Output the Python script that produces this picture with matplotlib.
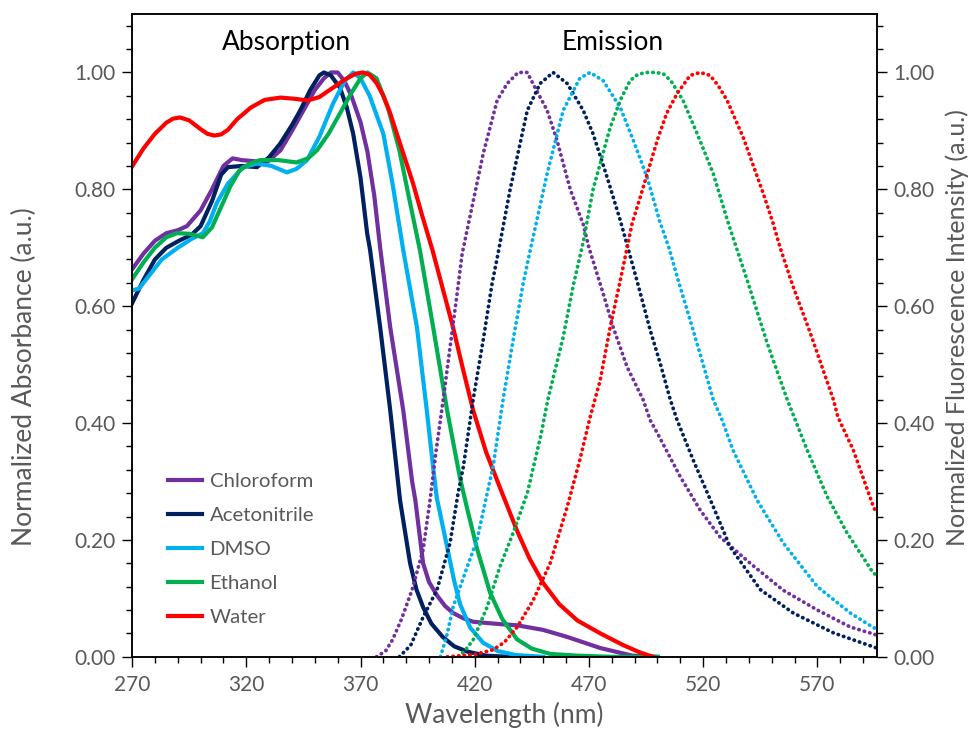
import matplotlib.pyplot as plt
from matplotlib.ticker import MultipleLocator

plt.rcParams['font.family'] = ['Lato', 'DejaVu Sans']

solvents = ["Chloroform", "Acetonitrile", "DMSO", "Ethanol", "Water"]
colors = ["#7030A0", "#002060", "#00B0F0", "#00B050", "#FF0000"]
xticks = [270, 320, 370, 420, 470, 520, 570]

# absorption spectra (wavelength nm, normalized absorbance)
abs_chloroform_x = [270, 275, 280, 285, 290, 294, 300, 305, 310, 314, 318, 324, 329, 335, 340, 345, 350, 354, 357, 360,
                    363, 366, 370, 373, 376, 378.6, 383, 388.7, 392.6, 394, 397.4, 400, 403.5, 407, 410.5, 415, 419.3,
                    425, 431, 438.5, 450, 460.5, 475, 489, 500]
abs_chloroform_y = [0.663, 0.69, 0.712, 0.725, 0.73, 0.737, 0.764, 0.80, 0.84, 0.853, 0.85, 0.848, 0.846, 0.867, 0.90,
                    0.935, 0.97, 0.99, 1.0, 1.0, 0.985, 0.96, 0.915, 0.865, 0.79, 0.70, 0.564, 0.422, 0.30, 0.268,
                    0.16, 0.128, 0.105, 0.087, 0.075, 0.066, 0.06, 0.058, 0.056, 0.054, 0.046, 0.034, 0.015, 0.002,
                    0.0]

abs_acetonitrile_x = [270, 275, 280, 285, 291, 296, 300, 305, 309, 312, 318, 324.7, 330, 334.8, 340, 343.6, 348, 352,
                      354, 357, 361, 364, 366.8, 370, 372.9, 374.2, 378.6, 383, 387.3, 391.7, 394.5, 397.4, 401, 406,
                      411, 416.7, 425, 435]
abs_acetonitrile_y = [0.605, 0.645, 0.68, 0.70, 0.713, 0.722, 0.737, 0.78, 0.825, 0.838, 0.84, 0.838, 0.855, 0.878,
                      0.91, 0.935, 0.97, 0.995, 1.0, 0.995, 0.974, 0.94, 0.895, 0.82, 0.725, 0.696, 0.564, 0.422,
                      0.268, 0.16, 0.115, 0.085, 0.057, 0.034, 0.018, 0.009, 0.002, 0.0]

abs_dmso_x = [270, 273, 277, 283, 290, 296, 301, 304, 307, 312, 318.6, 324.7, 331, 337.8, 342, 346.6, 352, 358, 363,
              366.8, 370, 374, 380, 384, 388.7, 394.7, 399, 401.9, 403.4, 407.9, 411, 413.6, 418, 423.7, 430, 438, 450]
abs_dmso_y = [0.627, 0.63, 0.65, 0.68, 0.70, 0.715, 0.725, 0.745, 0.776, 0.81, 0.838, 0.844, 0.84, 0.829, 0.835, 0.85,
              0.89, 0.947, 0.985, 1.0, 0.99, 0.96, 0.895, 0.81, 0.696, 0.564, 0.422, 0.32, 0.272, 0.188, 0.13, 0.09,
              0.05, 0.024, 0.01, 0.003, 0.0]

abs_ethanol_x = [270, 275, 280, 285, 289.7, 295, 301, 305, 309, 313, 317, 321, 326, 334, 342, 347, 351, 356, 361, 366,
                 370, 373, 377, 382, 387, 391, 396, 401.8, 407.9, 413.6, 416.6, 421, 426.7, 432, 438.5, 445, 453, 465,
                 480, 500]
abs_ethanol_y = [0.646, 0.675, 0.70, 0.718, 0.725, 0.724, 0.718, 0.735, 0.77, 0.805, 0.832, 0.843, 0.85, 0.85, 0.846,
                 0.853, 0.867, 0.895, 0.93, 0.965, 0.99, 1.0, 0.99, 0.94, 0.867, 0.79, 0.696, 0.564, 0.422, 0.305,
                 0.255, 0.185, 0.11, 0.065, 0.03, 0.014, 0.005, 0.002, 0.0, 0.0]

abs_water_x = [270, 275, 280, 285, 288, 291, 295, 300, 303, 306, 309, 312, 316, 322, 328, 335, 341, 347, 352, 358, 364,
               368, 371, 374, 377, 380, 383, 388, 393, 397, 401.5, 406, 410.5, 415, 419.3, 425, 431, 438.6, 444, 450,
               457, 465, 475, 485, 492, 498]
abs_water_y = [0.839, 0.87, 0.895, 0.914, 0.921, 0.923, 0.918, 0.903, 0.895, 0.892, 0.894, 0.902, 0.92, 0.94, 0.953,
               0.957, 0.955, 0.952, 0.958, 0.974, 0.99, 0.998, 1.0, 0.996, 0.982, 0.96, 0.93, 0.87, 0.81, 0.755,
               0.696, 0.63, 0.564, 0.49, 0.422, 0.35, 0.29, 0.215, 0.168, 0.126, 0.09, 0.062, 0.04, 0.02, 0.008, 0.0]

# emission spectra (wavelength nm, normalized fluorescence)
em_chloroform_x = [377, 381, 384, 388, 392.6, 397.4, 400.5, 403, 406.2, 409.2, 412.3, 414.5, 419.4, 423.7, 429.8,
                   434.2, 439, 443, 445.6, 451.7, 456, 461.8, 467.5, 470, 476.2, 480.6, 486.7, 493.7, 496.8, 499.9,
                   510, 518.7, 527.4, 540.6, 555, 570, 584.4, 594.6, 596]
em_chloroform_y = [0.0, 0.01, 0.029, 0.065, 0.115, 0.183, 0.27, 0.35, 0.44, 0.53, 0.622, 0.69, 0.781, 0.861, 0.952,
                   0.981, 1.0, 1.0, 0.98, 0.935, 0.884, 0.80, 0.74, 0.70, 0.622, 0.564, 0.496, 0.44, 0.405, 0.383,
                   0.308, 0.251, 0.205, 0.16, 0.114, 0.08, 0.051, 0.039, 0.037]

em_acetonitrile_x = [387, 392, 397.4, 403.5, 409.2, 412.7, 415, 419.3, 423.7, 427.6, 430.2, 435.5, 443, 448.6, 454.3,
                     460.5, 467.5, 471.8, 478, 483.7, 491, 496.8, 501.2, 505.6, 508.6, 515.6, 524.4, 531.8, 545,
                     559.4, 577, 594.5, 596]
em_acetonitrile_y = [0.0, 0.02, 0.068, 0.115, 0.195, 0.28, 0.325, 0.44, 0.542, 0.639, 0.69, 0.80, 0.935, 0.981, 1.0,
                     0.981, 0.935, 0.895, 0.82, 0.747, 0.644, 0.559, 0.502, 0.44, 0.405, 0.337, 0.257, 0.188, 0.115,
                     0.075, 0.041, 0.017, 0.015]

em_dmso_x = [405, 408, 410.5, 416.7, 421, 426, 428, 432.4, 436.8, 441.2, 444.3, 451.7, 458.7, 466, 470.5, 476.2,
             483.7, 489.4, 495.5, 501, 505, 509, 515.6, 521.5, 524.4, 528.3, 533, 543.6, 555, 570, 584.4, 594.5, 596]
em_dmso_y = [0.0, 0.04, 0.085, 0.154, 0.2, 0.29, 0.325, 0.44, 0.542, 0.639, 0.696, 0.827, 0.935, 0.99, 1.0, 0.986,
             0.94, 0.884, 0.82, 0.745, 0.70, 0.645, 0.559, 0.48, 0.44, 0.405, 0.354, 0.268, 0.195, 0.12, 0.075, 0.05,
             0.048]

em_ethanol_x = [413, 416, 419.3, 425.4, 431, 436.8, 443, 446, 449, 452, 458.7, 463, 467.5, 471.8, 479.3, 484, 488,
                491.5, 495.5, 499, 502.5, 506, 511.2, 517.4, 524.4, 531, 539.3, 548, 556.8, 565.5, 574.3, 583, 594.5,
                596]
em_ethanol_y = [0.0, 0.012, 0.029, 0.085, 0.154, 0.212, 0.28, 0.33, 0.38, 0.44, 0.547, 0.633, 0.71, 0.80, 0.906,
                0.955, 0.986, 0.997, 1.0, 1.0, 0.998, 0.985, 0.952, 0.895, 0.827, 0.742, 0.644, 0.537, 0.44, 0.354,
                0.274, 0.212, 0.143, 0.14]

em_water_x = [408, 420, 428, 433, 438.6, 445.6, 453, 460.5, 466, 470.5, 474.9, 479.3, 483.7, 486.7, 488.9, 492.4,
              499.9, 504, 508.6, 514.3, 518.7, 523, 526.5, 530.5, 537.5, 546.3, 550.6, 553.7, 559.4, 566.9, 577, 579,
              585.7, 594.5, 596]
em_water_y = [0.0, 0.004, 0.012, 0.025, 0.051, 0.097, 0.16, 0.257, 0.337, 0.41, 0.473, 0.564, 0.644, 0.70, 0.742,
              0.786, 0.884, 0.93, 0.964, 0.995, 1.0, 0.995, 0.978, 0.952, 0.889, 0.793, 0.742, 0.70, 0.633, 0.554,
              0.44, 0.41, 0.354, 0.257, 0.245]

abs_x = [abs_chloroform_x, abs_acetonitrile_x, abs_dmso_x, abs_ethanol_x, abs_water_x]
abs_y = [abs_chloroform_y, abs_acetonitrile_y, abs_dmso_y, abs_ethanol_y, abs_water_y]
em_x = [em_chloroform_x, em_acetonitrile_x, em_dmso_x, em_ethanol_x, em_water_x]
em_y = [em_chloroform_y, em_acetonitrile_y, em_dmso_y, em_ethanol_y, em_water_y]

grey = "#595959"

fig = plt.figure(figsize=(9.71, 7.38), dpi=100)
ax = fig.add_axes([0.136, 0.110, 0.767, 0.871])
ax2 = ax.twinx()

for xs, ys, c, name in zip(abs_x, abs_y, colors, solvents):
    ax.plot(xs, ys, color=c, lw=3.0, label=name, solid_joinstyle='round')
for xs, ys, c in zip(em_x, em_y, colors):
    ax2.plot(xs, ys, color=c, lw=2.7, linestyle=(0, (0.1, 1.4)), dash_capstyle='round')

for a in (ax, ax2):
    a.set_xlim(270, 596)
    a.set_ylim(0, 1.1)
    a.yaxis.set_major_locator(MultipleLocator(0.2))
    a.yaxis.set_minor_locator(MultipleLocator(0.04))
    a.yaxis.set_major_formatter(lambda v, p: f"{v:.2f}")
    a.tick_params(axis='y', which='major', length=7, width=1, labelsize=15, labelcolor=grey, pad=5)
    a.tick_params(axis='y', which='minor', length=4, width=1)
    for s in a.spines.values():
        s.set_linewidth(1.1)

ax.set_xticks(xticks)
ax.xaxis.set_minor_locator(MultipleLocator(10))
ax.tick_params(axis='x', which='major', length=7, width=1, labelsize=15, labelcolor=grey, pad=6)
ax.tick_params(axis='x', which='minor', length=4, width=1)

ax.set_xlabel("Wavelength (nm)", fontsize=19, color=grey, labelpad=5)
fig.text(24 / 971, 1 - 546 / 738, "Normalized Absorbance (a.u.)", rotation=90, fontsize=19,
         color=grey, ha='center', va='bottom')
fig.text(957 / 971, 1 - 546 / 738, "Normalized Fluorescence Intensity (a.u.)", rotation=90, fontsize=18,
         color=grey, ha='center', va='bottom')

ax.text(337.5, 1.051, "Absorption", fontsize=19, ha='center', va='center', color='black')
ax.text(480.5, 1.051, "Emission", fontsize=19, ha='center', va='center', color='black')

ax.legend(loc='upper left', bbox_to_anchor=(0.024, 0.315), frameon=False, fontsize=14.7,
          handlelength=1.67, handletextpad=0.35, labelspacing=0.82, labelcolor=grey)

fig.savefig("out.png", dpi=100)
